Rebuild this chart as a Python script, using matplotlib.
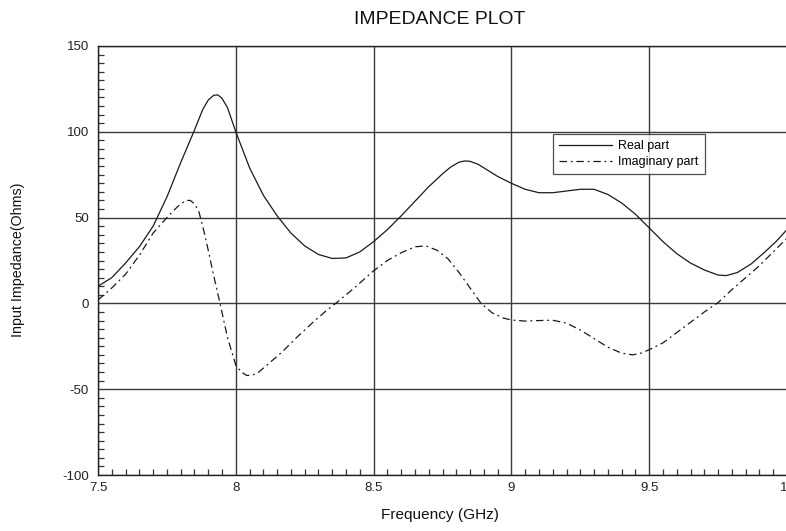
import matplotlib
matplotlib.use("Agg")
import matplotlib.pyplot as plt
from matplotlib import font_manager
from matplotlib.ticker import MultipleLocator, FixedLocator, FixedFormatter

names = {f.name for f in font_manager.fontManager.ttflist}
if "Liberation Sans Narrow" in names:
    FONT = ["Liberation Sans Narrow", "DejaVu Sans"]
    NARROW = True
else:
    FONT = ["Liberation Sans", "DejaVu Sans"]
    NARROW = False
plt.rcParams["font.family"] = FONT

# Data
real_f = [7.50, 7.55, 7.60, 7.65, 7.70, 7.75, 7.80, 7.85, 7.88, 7.90, 7.92, 7.935, 7.95, 7.97, 8.00,
          8.05, 8.10, 8.15, 8.20, 8.25, 8.30, 8.35, 8.40, 8.45, 8.50, 8.55, 8.60, 8.65, 8.70,
          8.75, 8.78, 8.81, 8.83, 8.85, 8.88, 8.91, 8.95, 9.00, 9.05, 9.10, 9.15, 9.20, 9.25, 9.30, 9.35,
          9.40, 9.45, 9.50, 9.55, 9.60, 9.65, 9.70, 9.75, 9.78, 9.82, 9.87, 9.92, 9.96, 10.00]
real_v = [10, 15, 23.5, 33, 45, 62, 82, 101, 113, 118.5, 121.3, 121.5, 119.5, 114, 100,
          79, 63, 51, 41, 33.5, 28.5, 26.2, 26.5, 30, 36, 43, 51, 59.5, 68,
          75.5, 79.5, 82.3, 83, 82.8, 81, 78, 74, 70, 66.5, 64.5, 64.5, 65.5, 66.5, 66.5, 63.5,
          58.5, 52, 44, 36, 29, 23.5, 19.5, 16.5, 16.2, 18, 23, 30, 36, 43]

imag_f = [7.50, 7.55, 7.60, 7.65, 7.70, 7.75, 7.78, 7.80, 7.82, 7.835, 7.85, 7.865, 7.88, 7.90,
          7.92, 7.94, 7.97, 8.00, 8.02, 8.04, 8.06, 8.08, 8.12, 8.17, 8.22, 8.28, 8.33, 8.37,
          8.43, 8.50, 8.55, 8.60, 8.65, 8.69, 8.73, 8.77, 8.81, 8.85, 8.89, 8.93, 8.97, 9.00,
          9.05, 9.10, 9.15, 9.20, 9.25, 9.30, 9.35, 9.40, 9.44, 9.47, 9.50, 9.55, 9.60, 9.65,
          9.70, 9.75, 9.80, 9.85, 9.90, 9.95, 10.00]
imag_v = [2, 9, 17, 28, 41, 50, 55, 58, 60, 60, 58, 54, 45, 31,
          16, 2, -20, -36, -40, -42, -41.8, -40.5, -35, -28, -20, -11, -4, 1,
          9, 19, 25, 29.5, 33, 33.5, 31, 26, 18, 9, 0, -5.5, -8.5, -9.7,
          -10.3, -10, -9.8, -11.5, -15.5, -20.5, -25.5, -29, -30, -29, -27, -23, -17, -11,
          -5, 0.5, 8, 15, 22, 30, 38]

x_ticks = [7.5, 8, 8.5, 9, 9.5, 10]
x_tick_labels = ["7.5", "8", "8.5", "9", "9.5", "10"]
y_ticks = [-100, -50, 0, 50, 100, 150]
y_tick_labels = ["-100", "-50", "0", "50", "100", "150"]

k = 1.0 if NARROW else 0.82
fig = plt.figure(figsize=(7.86, 5.31), dpi=100)
ax = fig.add_axes([98/786, 1-475/531, 689/786, 429/531])

ax.plot(real_f, real_v, color="#1a1a1a", lw=0.9, label="Real part")
ax.plot(imag_f, imag_v, color="#1a1a1a", lw=0.9, dashes=(6, 3, 1.5, 3), label="Imaginary part")

ax.set_xlim(7.5, 10)
ax.set_ylim(-100, 150)
ax.xaxis.set_major_locator(FixedLocator(x_ticks))
ax.xaxis.set_major_formatter(FixedFormatter(x_tick_labels))
ax.yaxis.set_major_locator(FixedLocator(y_ticks))
ax.yaxis.set_major_formatter(FixedFormatter(y_tick_labels))
ax.xaxis.set_minor_locator(MultipleLocator(0.05))
ax.yaxis.set_minor_locator(MultipleLocator(5))
ax.tick_params(which="major", length=0, pad=5, labelsize=9.5, colors="#222222")
ax.tick_params(which="minor", direction="in", length=4.3, width=0.9, color="#333333")
ax.tick_params(axis="y", which="major", pad=6.5)
ax.grid(True, which="major", color="#3a3a3a", lw=1.0)
for s in ax.spines.values():
    s.set_color("#222222")
    s.set_linewidth(1.0)

leg = ax.legend(loc="upper left", bbox_to_anchor=((553-98)/689, (475-134)/429),
                fontsize=9, frameon=True, fancybox=False, handlelength=4.2,
                borderpad=0.5, labelspacing=0.3, handletextpad=0.5, borderaxespad=0)
leg.get_frame().set_edgecolor("#222222")
leg.get_frame().set_linewidth(0.9)

fig.text(440/786, 1-19/531, "IMPEDANCE PLOT", ha="center", va="center", fontsize=17*k, color="#111111")
fig.text(440/786, 1-515/531, "Frequency (GHz)", ha="center", va="center", fontsize=13.5*k, color="#111111")
fig.text(18/786, 1-260/531, "Input Impedance(Ohms)", ha="center", va="center", rotation=90,
         fontsize=12.5*k, color="#111111")

fig.savefig("out.png", dpi=100)
